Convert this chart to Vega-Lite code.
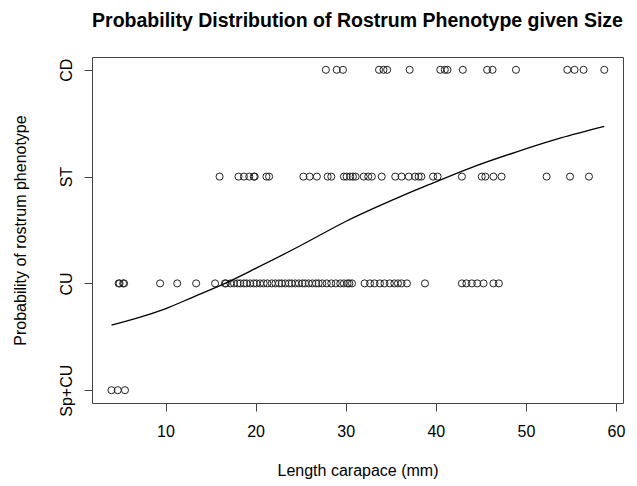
{
  "$schema": "https://vega.github.io/schema/vega-lite/v6.json",
  "width": 531,
  "height": 346,
  "autosize": {"type": "none"},
  "padding": {"left": 92, "top": 57, "right": 14, "bottom": 83},
  "background": "white",
  "title": {
    "text": "Probability Distribution of Rostrum Phenotype given Size",
    "font": "Liberation Sans",
    "fontSize": 19.5,
    "fontWeight": "bold",
    "color": "black",
    "anchor": "middle",
    "offset": 26
  },
  "config": {
    "view": {"stroke": "#444", "strokeWidth": 1},
    "axis": {
      "labelFont": "Liberation Sans",
      "titleFont": "Liberation Sans",
      "labelFontSize": 16,
      "titleFontSize": 16,
      "labelColor": "black",
      "titleColor": "black",
      "titleFontWeight": "normal",
      "domain": false,
      "grid": false,
      "tickColor": "#444",
      "tickSize": 8
    }
  },
  "datasets": {
    "obs": [
      {"len": 27.8, "rank": 3}, {"len": 29.0, "rank": 3}, {"len": 29.7, "rank": 3},
      {"len": 33.7, "rank": 3}, {"len": 34.2, "rank": 3}, {"len": 34.6, "rank": 3},
      {"len": 37.1, "rank": 3}, {"len": 40.5, "rank": 3}, {"len": 41.0, "rank": 3},
      {"len": 41.3, "rank": 3}, {"len": 43.0, "rank": 3}, {"len": 45.7, "rank": 3},
      {"len": 46.3, "rank": 3}, {"len": 48.9, "rank": 3}, {"len": 54.6, "rank": 3},
      {"len": 55.4, "rank": 3}, {"len": 56.4, "rank": 3}, {"len": 58.7, "rank": 3},

      {"len": 16.0, "rank": 2}, {"len": 18.1, "rank": 2}, {"len": 18.7, "rank": 2},
      {"len": 19.3, "rank": 2}, {"len": 19.8, "rank": 2}, {"len": 19.9, "rank": 2},
      {"len": 21.2, "rank": 2}, {"len": 21.5, "rank": 2}, {"len": 25.3, "rank": 2},
      {"len": 26.0, "rank": 2}, {"len": 26.8, "rank": 2}, {"len": 28.0, "rank": 2},
      {"len": 28.4, "rank": 2}, {"len": 29.8, "rank": 2}, {"len": 30.1, "rank": 2},
      {"len": 30.5, "rank": 2}, {"len": 30.8, "rank": 2}, {"len": 31.1, "rank": 2},
      {"len": 32.0, "rank": 2}, {"len": 32.5, "rank": 2}, {"len": 32.9, "rank": 2},
      {"len": 34.0, "rank": 2}, {"len": 35.5, "rank": 2}, {"len": 36.2, "rank": 2},
      {"len": 37.0, "rank": 2}, {"len": 37.7, "rank": 2}, {"len": 38.1, "rank": 2},
      {"len": 38.4, "rank": 2}, {"len": 39.7, "rank": 2}, {"len": 40.2, "rank": 2},
      {"len": 42.9, "rank": 2}, {"len": 45.1, "rank": 2}, {"len": 45.5, "rank": 2},
      {"len": 46.4, "rank": 2}, {"len": 47.3, "rank": 2}, {"len": 52.3, "rank": 2},
      {"len": 54.9, "rank": 2}, {"len": 57.0, "rank": 2},

      {"len": 4.8, "rank": 1}, {"len": 4.9, "rank": 1}, {"len": 5.3, "rank": 1},
      {"len": 5.4, "rank": 1}, {"len": 9.4, "rank": 1}, {"len": 11.3, "rank": 1},
      {"len": 13.4, "rank": 1}, {"len": 15.5, "rank": 1}, {"len": 16.6, "rank": 1},
      {"len": 16.7, "rank": 1}, {"len": 17.2, "rank": 1}, {"len": 17.6, "rank": 1},
      {"len": 18.0, "rank": 1}, {"len": 18.3, "rank": 1}, {"len": 18.7, "rank": 1},
      {"len": 19.0, "rank": 1}, {"len": 19.4, "rank": 1}, {"len": 19.8, "rank": 1},
      {"len": 20.1, "rank": 1}, {"len": 20.5, "rank": 1}, {"len": 20.9, "rank": 1},
      {"len": 21.3, "rank": 1}, {"len": 21.8, "rank": 1}, {"len": 22.2, "rank": 1},
      {"len": 22.6, "rank": 1}, {"len": 22.9, "rank": 1}, {"len": 23.3, "rank": 1},
      {"len": 23.7, "rank": 1}, {"len": 24.0, "rank": 1}, {"len": 24.4, "rank": 1},
      {"len": 24.8, "rank": 1}, {"len": 25.2, "rank": 1}, {"len": 25.5, "rank": 1},
      {"len": 25.9, "rank": 1}, {"len": 26.3, "rank": 1}, {"len": 26.7, "rank": 1},
      {"len": 27.0, "rank": 1}, {"len": 27.4, "rank": 1}, {"len": 27.9, "rank": 1},
      {"len": 28.4, "rank": 1}, {"len": 28.9, "rank": 1}, {"len": 29.4, "rank": 1},
      {"len": 29.8, "rank": 1}, {"len": 30.2, "rank": 1}, {"len": 30.4, "rank": 1},
      {"len": 30.7, "rank": 1}, {"len": 32.1, "rank": 1}, {"len": 32.7, "rank": 1},
      {"len": 33.2, "rank": 1}, {"len": 33.8, "rank": 1}, {"len": 34.3, "rank": 1},
      {"len": 34.9, "rank": 1}, {"len": 35.4, "rank": 1}, {"len": 35.8, "rank": 1},
      {"len": 36.2, "rank": 1}, {"len": 36.8, "rank": 1}, {"len": 38.8, "rank": 1},
      {"len": 42.9, "rank": 1}, {"len": 43.4, "rank": 1}, {"len": 44.0, "rank": 1},
      {"len": 44.6, "rank": 1}, {"len": 45.3, "rank": 1}, {"len": 46.4, "rank": 1},
      {"len": 47.0, "rank": 1},

      {"len": 4.0, "rank": 0}, {"len": 4.7, "rank": 0}, {"len": 5.5, "rank": 0}
    ],
    "fit": [
      {"len": 4.0, "prob": 0.61}, {"len": 7.0, "prob": 0.68}, {"len": 9.9, "prob": 0.76},
      {"len": 13.0, "prob": 0.87}, {"len": 16.6, "prob": 1.0}, {"len": 20.0, "prob": 1.14},
      {"len": 24.9, "prob": 1.35}, {"len": 30.0, "prob": 1.58}, {"len": 36.0, "prob": 1.81},
      {"len": 39.4, "prob": 1.93}, {"len": 43.8, "prob": 2.08}, {"len": 48.9, "prob": 2.23},
      {"len": 53.8, "prob": 2.36}, {"len": 58.7, "prob": 2.47}
    ]
  },
  "layer": [
    {
      "data": {"name": "obs"},
      "mark": {"type": "point", "shape": "circle", "filled": false, "stroke": "#222", "strokeWidth": 1, "size": 50, "opacity": 1},
      "encoding": {
        "x": {
          "field": "len", "type": "quantitative",
          "scale": {"domain": [1.84, 60.78], "nice": false, "zero": false},
          "axis": {"values": [10, 20, 30, 40, 50, 60], "title": "Length carapace (mm)", "labelPadding": 12, "titlePadding": 23}
        },
        "y": {
          "field": "rank", "type": "quantitative",
          "scale": {"domain": [-0.12, 3.12], "nice": false, "zero": false},
          "axis": {
            "values": [0, 1, 2, 3],
            "labelExpr": "['Sp+CU','CU','ST','CD'][datum.value]",
            "labelAngle": -90,
            "labelAlign": "center",
            "labelBaseline": "bottom",
            "labelPadding": 10,
            "title": "Probability of rostrum phenotype",
            "titlePadding": 30
          }
        }
      }
    },
    {
      "data": {"name": "fit"},
      "mark": {"type": "line", "color": "black", "strokeWidth": 1.3, "interpolate": "monotone"},
      "encoding": {
        "x": {"field": "len", "type": "quantitative"},
        "y": {"field": "prob", "type": "quantitative"}
      }
    }
  ]
}
